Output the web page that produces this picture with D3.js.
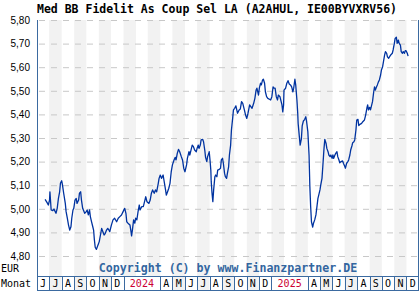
<!DOCTYPE html>
<html>
<head>
<meta charset="utf-8">
<script src="https://cdn.jsdelivr.net/npm/d3@7"></script>
<style>
  body { margin: 0; background: #fff; }
  svg { display: block; }
</style>
</head>
<body>
<svg id="chart"></svg>
<script>
const width = 420;
const height = 300;
const plot = { left: 37, right: 419, top: 20, bottom: 276, rowBottom: 291 };
const mono = "'DejaVu Sans Mono', monospace";

const title = "Med BB Fidelit As Coup Sel LA (A2AHUL, IE00BYVXRV56)";
const copyright = "Copyright (C) by www.Finanzpartner.DE";
const unitLabel = "EUR";
const rowLabel = "Monat";
const yTicks = [4.8, 4.9, 5.0, 5.1, 5.2, 5.3, 5.4, 5.5, 5.6, 5.7, 5.8];
const monthLetters = ["J", "F", "M", "A", "M", "J", "J", "A", "S", "O", "N", "D"];

// Kurs (EUR)
const dates = [
  "2023-06-21","2023-06-26","2023-06-29","2023-07-02","2023-07-03","2023-07-06","2023-07-10","2023-07-13","2023-07-16","2023-07-18",
  "2023-07-21","2023-07-24","2023-07-27","2023-07-29","2023-08-01","2023-08-03","2023-08-06","2023-08-10","2023-08-12","2023-08-15",
  "2023-08-18","2023-08-21","2023-08-24","2023-08-26","2023-08-29","2023-08-31","2023-09-03","2023-09-06","2023-09-08","2023-09-12",
  "2023-09-14","2023-09-17","2023-09-19","2023-09-22","2023-09-27","2023-10-01","2023-10-03","2023-10-06","2023-10-09","2023-10-11",
  "2023-10-14","2023-10-17","2023-10-19","2023-10-21","2023-10-23","2023-10-26","2023-10-29","2023-11-02","2023-11-05","2023-11-08",
  "2023-11-11","2023-11-14","2023-11-17","2023-11-20","2023-11-23","2023-11-26","2023-11-28","2023-12-02","2023-12-06","2023-12-10",
  "2023-12-15","2023-12-19","2023-12-23","2023-12-27","2023-12-31","2024-01-04","2024-01-07","2024-01-09","2024-01-12","2024-01-17",
  "2024-01-19","2024-01-21","2024-01-23","2024-01-26","2024-01-29","2024-01-31","2024-02-03","2024-02-06","2024-02-09","2024-02-11",
  "2024-02-15","2024-02-19","2024-02-23","2024-02-25","2024-02-28","2024-03-04","2024-03-07","2024-03-10","2024-03-13","2024-03-17",
  "2024-03-20","2024-03-23","2024-03-27","2024-03-29","2024-04-01","2024-04-04","2024-04-08","2024-04-10","2024-04-14","2024-04-16",
  "2024-04-19","2024-04-22","2024-04-25","2024-04-28","2024-05-01","2024-05-05","2024-05-08","2024-05-10","2024-05-13","2024-05-16",
  "2024-05-19","2024-05-23","2024-05-26","2024-05-29","2024-06-01","2024-06-05","2024-06-07","2024-06-11","2024-06-13","2024-06-16",
  "2024-06-19","2024-06-22","2024-06-25","2024-06-29","2024-07-01","2024-07-04","2024-07-06","2024-07-09","2024-07-11","2024-07-15",
  "2024-07-17","2024-07-20","2024-07-22","2024-07-25","2024-07-27","2024-07-30","2024-07-31","2024-08-02","2024-08-04","2024-08-05",
  "2024-08-07","2024-08-09","2024-08-11","2024-08-14","2024-08-16","2024-08-19","2024-08-21","2024-08-25","2024-08-28","2024-08-30",
  "2024-09-02","2024-09-04","2024-09-07","2024-09-09","2024-09-12","2024-09-14","2024-09-17","2024-09-19","2024-09-22","2024-09-24",
  "2024-09-27","2024-09-29","2024-10-02","2024-10-05","2024-10-09","2024-10-13","2024-10-16","2024-10-19","2024-10-22","2024-10-26",
  "2024-10-29","2024-11-01","2024-11-04","2024-11-08","2024-11-11","2024-11-14","2024-11-18","2024-11-21","2024-11-24","2024-11-26",
  "2024-11-30","2024-12-02","2024-12-05","2024-12-07","2024-12-10","2024-12-12","2024-12-15","2024-12-17","2024-12-20","2024-12-23",
  "2024-12-27","2024-12-30","2025-01-02","2025-01-05","2025-01-07","2025-01-10","2025-01-13","2025-01-16","2025-01-18","2025-01-22",
  "2025-01-25","2025-01-27","2025-01-29","2025-01-31","2025-02-01","2025-02-05","2025-02-08","2025-02-11","2025-02-14","2025-02-17",
  "2025-02-20","2025-02-23","2025-02-25","2025-02-28","2025-03-02","2025-03-05","2025-03-07","2025-03-08","2025-03-11","2025-03-13",
  "2025-03-16","2025-03-18","2025-03-21","2025-03-24","2025-03-27","2025-03-29","2025-04-01","2025-04-04","2025-04-06","2025-04-08",
  "2025-04-10","2025-04-13","2025-04-15","2025-04-18","2025-04-21","2025-04-23","2025-04-26","2025-04-28","2025-05-01","2025-05-03",
  "2025-05-06","2025-05-08","2025-05-11","2025-05-13","2025-05-16","2025-05-18","2025-05-21","2025-05-23","2025-05-26","2025-05-28",
  "2025-05-31","2025-06-02","2025-06-04","2025-06-07","2025-06-09","2025-06-12","2025-06-14","2025-06-17","2025-06-19","2025-06-22",
  "2025-06-26","2025-06-28","2025-07-01","2025-07-03","2025-07-06","2025-07-09","2025-07-11","2025-07-14","2025-07-16","2025-07-19",
  "2025-07-21","2025-07-24","2025-07-26","2025-07-29","2025-07-31","2025-08-03","2025-08-05","2025-08-09","2025-08-12","2025-08-15",
  "2025-08-19","2025-08-22","2025-08-25","2025-08-27","2025-08-29","2025-09-01","2025-09-03","2025-09-06","2025-09-08","2025-09-11",
  "2025-09-13","2025-09-15","2025-09-18","2025-09-20","2025-09-23","2025-09-25","2025-09-28","2025-09-30","2025-10-03","2025-10-05",
  "2025-10-08","2025-10-10","2025-10-13","2025-10-15","2025-10-18","2025-10-20","2025-10-23","2025-10-27","2025-10-29","2025-11-01",
  "2025-11-03","2025-11-06","2025-11-08","2025-11-11","2025-11-13","2025-11-16","2025-11-18","2025-11-21","2025-11-23","2025-11-26",
  "2025-11-28","2025-11-30","2025-12-03","2025-12-05"
];
const prices = [
  5.040,5.026,5.016,5.037,5.072,4.995,4.992,4.999,4.988,4.981,
  5.002,5.044,5.072,5.108,5.119,5.101,5.066,5.023,4.988,4.960,
  4.931,4.910,4.924,4.960,4.995,5.002,5.037,5.044,5.023,5.037,
  5.066,5.072,5.037,5.002,4.981,4.988,4.995,4.974,4.995,4.967,
  4.945,4.924,4.910,4.868,4.837,4.828,4.842,4.861,4.889,4.917,
  4.903,4.889,4.896,4.910,4.917,4.910,4.903,4.931,4.953,4.960,
  4.945,4.960,4.967,4.974,4.988,5.002,4.981,4.945,4.939,4.931,
  4.910,4.885,4.910,4.953,4.939,4.960,4.953,4.988,5.016,4.995,
  5.009,5.009,5.037,5.051,5.030,5.023,5.037,5.066,5.080,5.066,
  5.080,5.072,5.108,5.129,5.143,5.129,5.143,5.122,5.080,5.058,
  5.072,5.087,5.108,5.156,5.186,5.207,5.218,5.207,5.235,5.252,
  5.242,5.221,5.207,5.172,5.157,5.186,5.214,5.242,5.228,5.249,
  5.270,5.263,5.249,5.242,5.256,5.270,5.256,5.270,5.292,5.294,
  5.284,5.249,5.218,5.200,5.221,5.235,5.242,5.207,5.164,5.115,
  5.066,5.030,5.080,5.136,5.143,5.136,5.164,5.167,5.172,5.207,
  5.214,5.193,5.150,5.136,5.129,5.150,5.178,5.228,5.270,5.334,
  5.383,5.419,5.426,5.436,5.405,5.419,5.423,5.454,5.447,5.419,
  5.397,5.383,5.405,5.440,5.433,5.426,5.447,5.468,5.503,5.511,
  5.482,5.511,5.532,5.525,5.546,5.549,5.532,5.496,5.475,5.468,
  5.464,5.461,5.475,5.517,5.511,5.511,5.475,5.461,5.482,5.475,
  5.454,5.440,5.411,5.440,5.503,5.511,5.532,5.543,5.529,5.525,
  5.517,5.496,5.511,5.549,5.525,5.461,5.405,5.362,5.306,5.270,
  5.296,5.351,5.372,5.378,5.390,5.369,5.327,5.228,5.094,5.009,
  4.945,4.922,4.939,4.953,4.974,5.002,5.044,5.058,5.080,5.101,
  5.129,5.178,5.256,5.294,5.278,5.256,5.242,5.228,5.221,5.228,
  5.214,5.228,5.214,5.228,5.235,5.242,5.221,5.207,5.195,5.200,
  5.203,5.193,5.181,5.172,5.193,5.200,5.207,5.228,5.249,5.266,
  5.280,5.284,5.292,5.334,5.376,5.379,5.353,5.359,5.362,5.369,
  5.376,5.397,5.426,5.440,5.419,5.430,5.419,5.440,5.454,5.496,
  5.517,5.503,5.517,5.525,5.539,5.546,5.567,5.588,5.602,5.623,
  5.652,5.666,5.659,5.644,5.638,5.644,5.652,5.659,5.673,5.701,
  5.722,5.727,5.701,5.715,5.701,5.694,5.666,5.659,5.666,5.659,
  5.670,5.670,5.659,5.647
];

const parse = d3.timeParse("%Y-%m-%d");
const data = dates.map((d, i) => ({ date: parse(d), value: prices[i] }));

const svg = d3.select("#chart")
  .attr("width", width)
  .attr("height", height);

// Skalen
const start = new Date(2023, 5, 1);
const end = new Date(2026, 0, 1);
const x = d3.scaleTime().domain([start, end]).range([plot.left, plot.right]);
const y = d3.scaleLinear().domain([4.8, 5.8]).range([256, 20]);

const months = d3.timeMonth.range(start, end);

// Monatsstreifen
svg.append("g")
  .selectAll("rect")
  .data(months.filter((m, i) => i % 2 === 1))
  .join("rect")
  .attr("x", d => x(d))
  .attr("y", plot.top)
  .attr("width", d => x(d3.timeMonth.offset(d, 1)) - x(d))
  .attr("height", plot.bottom - plot.top)
  .attr("fill", "#f2f2f2");

// Y-Achse mit Gitterlinien
const fmt = d3.formatLocale({ decimal: ",", thousands: ".", grouping: [3], currency: ["", " €"] }).format(".2f");
svg.append("g")
  .attr("transform", `translate(${plot.left},0)`)
  .attr("font-family", mono)
  .attr("font-size", 10)
  .call(d3.axisLeft(y).tickValues(yTicks).tickFormat(fmt)
    .tickSize(-(plot.right - plot.left)).tickPadding(7))
  .call(g => g.select(".domain").remove())
  .call(g => g.selectAll(".tick line")
    .attr("stroke", "#c8c8c8")
    .attr("stroke-dasharray", "6,6")
    .attr("stroke-dashoffset", -2))
  .call(g => g.selectAll(".tick text").attr("fill", "#000"));

// Kurslinie
const line = d3.line()
  .x(d => x(d.date))
  .y(d => y(d.value));

svg.append("path")
  .datum(data)
  .attr("fill", "none")
  .attr("stroke", "#0033a0")
  .attr("stroke-width", 1.3)
  .attr("stroke-linejoin", "round")
  .attr("d", line);

// Monatszeile
const cells = [];
months.forEach(m => {
  const mo = m.getMonth();
  if (mo === 0) {
    cells.push({ start: m, end: d3.timeMonth.offset(m, 3), label: String(m.getFullYear()), year: true });
  } else if (mo > 2) {
    cells.push({ start: m, end: d3.timeMonth.offset(m, 1), label: monthLetters[mo], year: false });
  }
});

const row = svg.append("g");
row.selectAll("rect")
  .data(cells)
  .join("rect")
  .attr("x", d => x(d.start))
  .attr("y", plot.bottom)
  .attr("width", d => x(d.end) - x(d.start))
  .attr("height", plot.rowBottom - plot.bottom)
  .attr("fill", d => (!d.year && d3.timeMonth.count(start, d.start) % 2 === 1) ? "#f2f2f2" : "#fff");

row.selectAll("line")
  .data(cells)
  .join("line")
  .attr("x1", d => Math.round(x(d.start)) + 0.5)
  .attr("x2", d => Math.round(x(d.start)) + 0.5)
  .attr("y1", plot.bottom)
  .attr("y2", plot.rowBottom)
  .attr("stroke", "#3b6aa0");

row.selectAll("text")
  .data(cells)
  .join("text")
  .attr("x", d => (x(d.start) + x(d.end)) / 2)
  .attr("y", (plot.bottom + plot.rowBottom) / 2)
  .attr("dy", "0.35em")
  .attr("text-anchor", "middle")
  .attr("font-family", mono)
  .attr("font-size", 10)
  .attr("fill", d => d.year ? "#cc0033" : "#000")
  .text(d => d.label);

// Rahmen
const frame = svg.append("g").attr("stroke", "#3b6aa0").attr("fill", "none");
frame.append("line")
  .attr("x1", plot.left + 0.5).attr("x2", plot.left + 0.5)
  .attr("y1", plot.top).attr("y2", plot.rowBottom);
frame.append("line")
  .attr("x1", plot.right - 0.5).attr("x2", plot.right - 0.5)
  .attr("y1", plot.top).attr("y2", plot.rowBottom);
frame.append("line")
  .attr("x1", plot.left).attr("x2", plot.right)
  .attr("y1", plot.bottom + 0.5).attr("y2", plot.bottom + 0.5);
frame.append("line")
  .attr("x1", plot.left).attr("x2", plot.right)
  .attr("y1", plot.rowBottom - 0.5).attr("y2", plot.rowBottom - 0.5);

// Texte
svg.append("text")
  .attr("x", plot.left)
  .attr("y", 12.5)
  .attr("font-family", mono)
  .attr("font-weight", "bold")
  .attr("font-size", 11.5)
  .attr("fill", "#000")
  .text(title);

svg.append("text")
  .attr("x", (plot.left + plot.right) / 2)
  .attr("y", 268)
  .attr("dy", "0.35em")
  .attr("text-anchor", "middle")
  .attr("font-family", mono)
  .attr("font-weight", "bold")
  .attr("font-size", 11.6)
  .attr("fill", "#3366a0")
  .text(copyright);

svg.append("text")
  .attr("x", 1)
  .attr("y", 268)
  .attr("dy", "0.35em")
  .attr("font-family", mono)
  .attr("font-size", 10)
  .text(unitLabel);

svg.append("text")
  .attr("x", 1)
  .attr("y", (plot.bottom + plot.rowBottom) / 2)
  .attr("dy", "0.35em")
  .attr("font-family", mono)
  .attr("font-size", 10)
  .text(rowLabel);
</script>
</body>
</html>
